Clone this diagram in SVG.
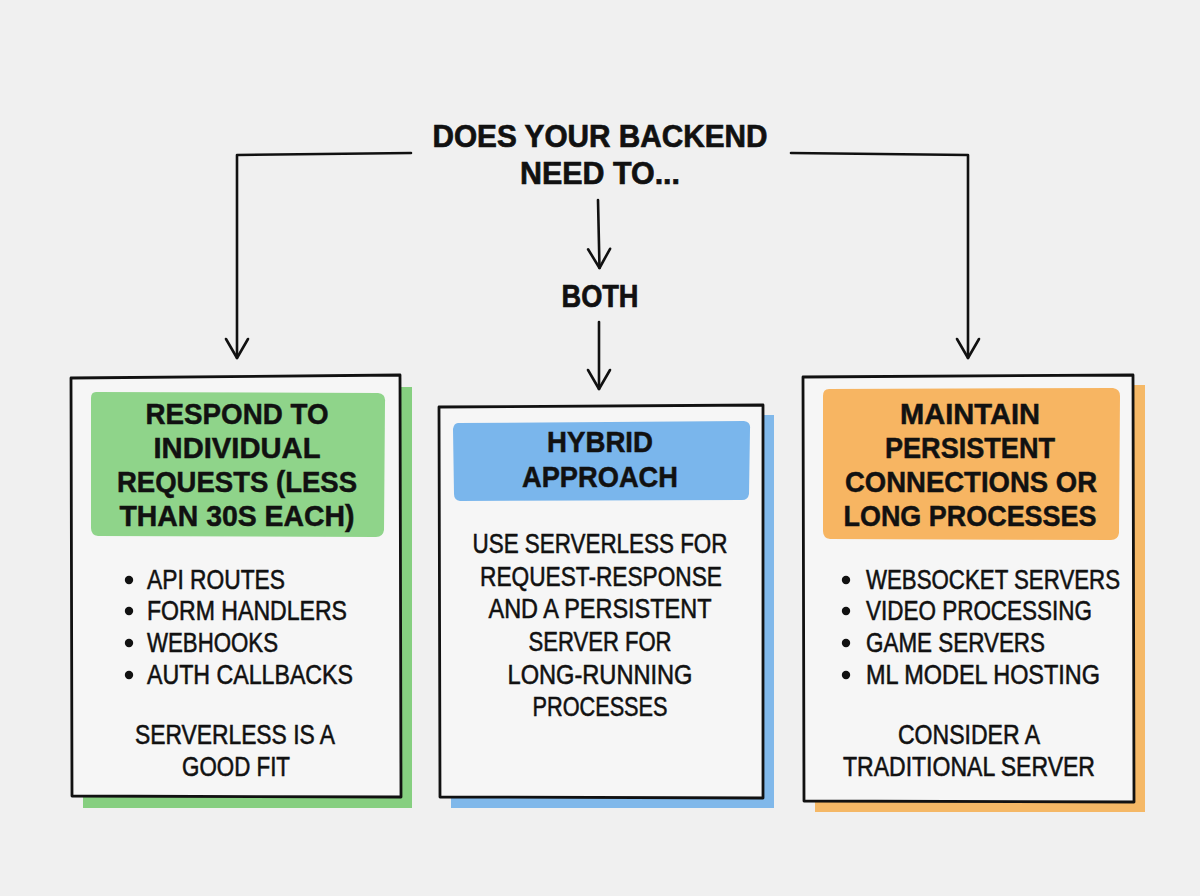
<svg xmlns="http://www.w3.org/2000/svg" width="1200" height="896" viewBox="0 0 1200 896">
<defs>
<style>
.t{font-family:"Liberation Sans",Arial,sans-serif;fill:#111;}
.title{font-size:32px;font-weight:700;text-anchor:middle;stroke:#111;stroke-width:0.7;}
.hd{font-size:29.5px;font-weight:700;text-anchor:middle;stroke:#111;stroke-width:0.5;}
.bd{font-size:27px;stroke:#111;stroke-width:0.55;}
.bc{font-size:27px;text-anchor:middle;stroke:#111;stroke-width:0.55;}
.bul{fill:#111;}
.box{fill:#f6f6f6;stroke:#111;stroke-width:2.8;stroke-linejoin:round;}
.conn{fill:none;stroke:#111;stroke-width:2.6;stroke-linecap:round;stroke-linejoin:round;}
</style>
<marker id="arr" viewBox="-22 -14 26 28" markerWidth="26" markerHeight="28" refX="0" refY="0" orient="auto" markerUnits="userSpaceOnUse">
<path d="M-19,-11 L0,0 L-19,11" fill="none" stroke="#111" stroke-width="2.6" stroke-linecap="round" stroke-linejoin="round"/>
</marker>
</defs>
<rect width="1200" height="896" fill="#f0f0f0"/>

<g id="title">
<text class="t title" x="600" y="147" textLength="335" lengthAdjust="spacingAndGlyphs">DOES YOUR BACKEND</text>
<text class="t title" x="600" y="184" textLength="160" lengthAdjust="spacingAndGlyphs">NEED TO...</text>
</g>

<g id="both">
<text class="t title" x="600" y="307" textLength="77" lengthAdjust="spacingAndGlyphs">BOTH</text>
</g>

<g id="connectors">
<path class="conn" d="M411,153 L237,155 L237,358" marker-end="url(#arr)"/>
<path class="conn" d="M791,153 L968,155 L968,358" marker-end="url(#arr)"/>
<path class="conn" d="M598,200 L599.5,268" marker-end="url(#arr)"/>
<path class="conn" d="M599,322 L599,389" marker-end="url(#arr)"/>
</g>

<g id="serverless">
<path d="M82,388 L412,387 L412,808 L83,808 Z" fill="#86cf80"/>
<path class="box" d="M71,378 L400,375 L401,797 L72,796 Z"/>
<path d="M96,392 L378,393 Q386,394 385,402 L384,530 Q383,537 376,537 L98,536 Q91,535 91,528 L91,398 Q91,392 96,392 Z" fill="#8fd48a"/>
<text class="t hd" x="237" y="424" textLength="183" lengthAdjust="spacingAndGlyphs">RESPOND TO</text>
<text class="t hd" x="237" y="458" textLength="167" lengthAdjust="spacingAndGlyphs">INDIVIDUAL</text>
<text class="t hd" x="237" y="492" textLength="240" lengthAdjust="spacingAndGlyphs">REQUESTS (LESS</text>
<text class="t hd" x="237" y="526" textLength="235" lengthAdjust="spacingAndGlyphs">THAN 30S EACH)</text>
<circle class="bul" cx="129" cy="580" r="4.2"/>
<circle class="bul" cx="129" cy="611" r="4.2"/>
<circle class="bul" cx="129" cy="643" r="4.2"/>
<circle class="bul" cx="129" cy="675" r="4.2"/>
<text class="t bd" x="147" y="589" textLength="138" lengthAdjust="spacingAndGlyphs">API ROUTES</text>
<text class="t bd" x="147" y="620" textLength="200" lengthAdjust="spacingAndGlyphs">FORM HANDLERS</text>
<text class="t bd" x="147" y="652" textLength="131" lengthAdjust="spacingAndGlyphs">WEBHOOKS</text>
<text class="t bd" x="147" y="684" textLength="206" lengthAdjust="spacingAndGlyphs">AUTH CALLBACKS</text>
<text class="t bc" x="235" y="744" textLength="200" lengthAdjust="spacingAndGlyphs">SERVERLESS IS A</text>
<text class="t bc" x="236" y="776" textLength="108" lengthAdjust="spacingAndGlyphs">GOOD FIT</text>
</g>

<g id="hybrid">
<path d="M450,416 L774,415 L774,808 L451,808 Z" fill="#80b8ea"/>
<path class="box" d="M439,407 L763,405 L763,798 L440,797 Z"/>
<path d="M458,423 L744,421 Q751,422 750,429 L749,494 Q748,500 742,500 L460,501 Q454,500 454,494 L453,429 Q454,423 458,423 Z" fill="#7ab6ec"/>
<text class="t hd" x="600" y="452" textLength="106" lengthAdjust="spacingAndGlyphs">HYBRID</text>
<text class="t hd" x="600" y="487" textLength="156" lengthAdjust="spacingAndGlyphs">APPROACH</text>
<text class="t bc" x="600" y="553" textLength="255" lengthAdjust="spacingAndGlyphs">USE SERVERLESS FOR</text>
<text class="t bc" x="601" y="586" textLength="242" lengthAdjust="spacingAndGlyphs">REQUEST-RESPONSE</text>
<text class="t bc" x="600" y="618" textLength="223" lengthAdjust="spacingAndGlyphs">AND A PERSISTENT</text>
<text class="t bc" x="600" y="651" textLength="143" lengthAdjust="spacingAndGlyphs">SERVER FOR</text>
<text class="t bc" x="600" y="684" textLength="185" lengthAdjust="spacingAndGlyphs">LONG-RUNNING</text>
<text class="t bc" x="600" y="716" textLength="135" lengthAdjust="spacingAndGlyphs">PROCESSES</text>
</g>

<g id="traditional">
<path d="M814,386 L1145,385 L1145,812 L815,812 Z" fill="#f5b866"/>
<path class="box" d="M803,377 L1133,375 L1134,802 L804,801 Z"/>
<path d="M829,389 L1113,388 Q1120,389 1120,396 L1119,533 Q1118,540 1111,540 L830,539 Q823,538 823,531 L823,396 Q823,389 829,389 Z" fill="#f7b562"/>
<text class="t hd" x="970" y="424" textLength="140" lengthAdjust="spacingAndGlyphs">MAINTAIN</text>
<text class="t hd" x="970" y="458" textLength="170" lengthAdjust="spacingAndGlyphs">PERSISTENT</text>
<text class="t hd" x="971" y="492" textLength="252" lengthAdjust="spacingAndGlyphs">CONNECTIONS OR</text>
<text class="t hd" x="970" y="526" textLength="253" lengthAdjust="spacingAndGlyphs">LONG PROCESSES</text>
<circle class="bul" cx="846" cy="580" r="4.2"/>
<circle class="bul" cx="846" cy="611" r="4.2"/>
<circle class="bul" cx="846" cy="643" r="4.2"/>
<circle class="bul" cx="846" cy="675" r="4.2"/>
<text class="t bd" x="866" y="589" textLength="254" lengthAdjust="spacingAndGlyphs">WEBSOCKET SERVERS</text>
<text class="t bd" x="866" y="620" textLength="226" lengthAdjust="spacingAndGlyphs">VIDEO PROCESSING</text>
<text class="t bd" x="866" y="652" textLength="179" lengthAdjust="spacingAndGlyphs">GAME SERVERS</text>
<text class="t bd" x="866" y="684" textLength="234" lengthAdjust="spacingAndGlyphs">ML MODEL HOSTING</text>
<text class="t bc" x="969" y="744" textLength="142" lengthAdjust="spacingAndGlyphs">CONSIDER A</text>
<text class="t bc" x="969" y="776" textLength="252" lengthAdjust="spacingAndGlyphs">TRADITIONAL SERVER</text>
</g>
</svg>
